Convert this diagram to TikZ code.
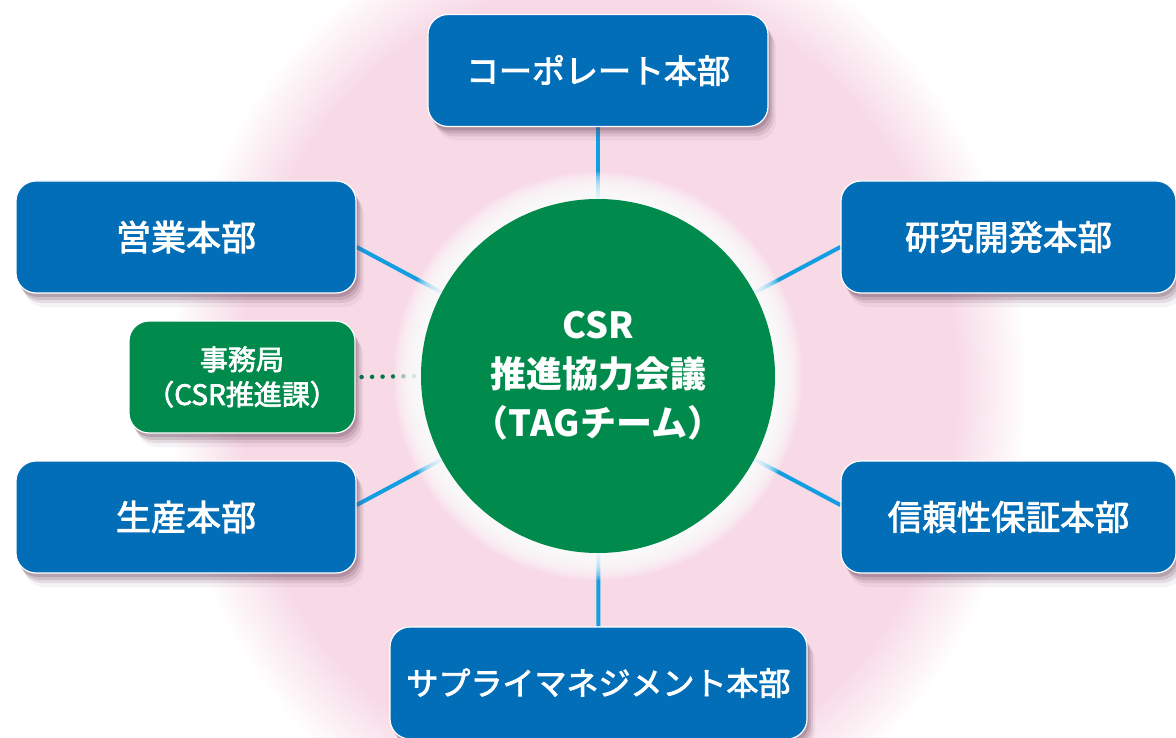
\documentclass[tikz,border=0pt]{standalone}
\usepackage{fontspec}
\setmainfont{Noto Sans CJK JP}
\newfontfamily\medfont{Noto Sans CJK JP}[BoldFont={Noto Sans CJK JP}, BoldFeatures={FakeBold=2.5}]
\usetikzlibrary{shadows,calc}
\definecolor{boxblue}{RGB}{3,110,184}
\definecolor{tagreen}{RGB}{0,138,76}
\definecolor{dotgreen}{RGB}{0,120,70}
\definecolor{lineblue}{RGB}{20,158,226}
\definecolor{pinkc}{RGB}{247,218,230}
\definecolor{shadowc}{RGB}{100,60,85}
\pgfdeclareradialshading{pinkbg}{\pgfpoint{0bp}{0bp}}{color(0bp)=(pinkc); color(20.8bp)=(pinkc); color(25bp)=(white); color(50bp)=(white)}
\pgfdeclarelayer{bg}
\pgfdeclarelayer{lines}
\pgfdeclarelayer{halo}
\pgfsetlayers{bg,lines,halo,main}
\tikzset{
  unitbox/.style={rectangle, rounded corners=20pt, draw=white, line width=1.2pt,
    text=white, minimum height=112pt, inner sep=0pt, align=center,
    drop shadow={shadow xshift=2pt, shadow yshift=-4pt, opacity=0.22, fill=shadowc},
    drop shadow={shadow xshift=4pt, shadow yshift=-7pt, opacity=0.17, fill=shadowc},
    drop shadow={shadow xshift=6pt, shadow yshift=-10pt, opacity=0.12, fill=shadowc},
    drop shadow={shadow xshift=8pt, shadow yshift=-14pt, opacity=0.06, fill=shadowc}},
  bluebox/.style={unitbox, fill=boxblue},
  greenbox/.style={unitbox, fill=tagreen},
  conn/.style={draw=lineblue, line width=4pt},
  dotconn/.style={draw=dotgreen, line width=4.5pt, line cap=round, dash pattern=on 0pt off 10.5pt},
  fs/.style={font=\medfont\bfseries\fontsize{#1}{#1}\selectfont}
}
\begin{document}
\begin{tikzpicture}[x=1pt,y=-1pt]
\useasboundingbox (0,0) rectangle (1176,738);

% nodes
\node[circle, fill=tagreen, minimum size=354pt, inner sep=0pt, text=white, align=center,
  font=\fontsize{36}{49}\selectfont\bfseries] (tag) at (598,376) {CSR\\推進協力会議\\（TAGチーム）};

\node[bluebox, minimum width=340pt, fs=33] (corp) at (598,70.5) {コーポレート本部};
\node[bluebox, minimum width=340pt, fs=35] (eigyo) at (186,237) {営業本部};
\node[bluebox, minimum width=335pt, fs=34.5] (kenkyu) at (1008.5,237) {研究開発本部};
\node[greenbox, minimum width=226pt, font=\medfont\bfseries\fontsize{28}{35}\selectfont] (jimu) at (242,377) {事務局\\（CSR推進課）};
\node[bluebox, minimum width=340pt, fs=35] (seisan) at (186,517) {生産本部};
\node[bluebox, minimum width=335pt, fs=34.5] (shinrai) at (1008.5,517) {信頼性保証本部};
\node[bluebox, minimum width=417pt, fs=32] (supply) at (598.5,683) {サプライマネジメント本部};

\begin{pgfonlayer}{bg}
  \fill[white] (0,0) rectangle (1176,738);
  \shade[shading=pinkbg] (598,385) ellipse [x radius=430pt, y radius=480pt];
\end{pgfonlayer}

\begin{pgfonlayer}{lines}
  \draw[conn] (corp) -- (tag);
  \draw[conn] (supply) -- (tag);
  \draw[conn] ($(eigyo.east)+(0,10)$) -- (tag);
  \draw[conn] ($(kenkyu.west)+(0,10)$) -- (tag);
  \draw[conn] ($(seisan.east)+(0,-12)$) -- (tag);
  \draw[conn] ($(shinrai.west)+(0,-12)$) -- (tag);
  \draw[dotconn] ($(jimu.east)+(6,0)$) -- (tag.west);
\end{pgfonlayer}

\begin{pgfonlayer}{halo}
  \foreach \i in {0,...,13} {
    \fill[white, opacity=0.16] (tag.center) circle ({178pt+2pt*\i});
  }
\end{pgfonlayer}
\end{tikzpicture}
\end{document}
